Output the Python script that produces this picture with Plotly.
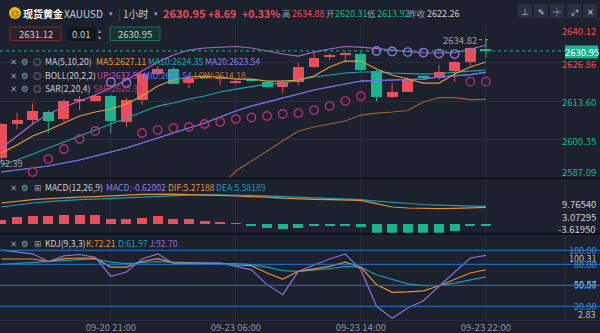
import plotly.graph_objects as go

# ---------------- data ----------------
times = ["09-20 14:00", "09-20 15:00", "09-20 16:00", "09-20 17:00", "09-20 18:00", "09-20 19:00", "09-20 20:00",
         "09-20 21:00", "09-20 22:00", "09-20 23:00", "09-21 00:00", "09-21 01:00", "09-21 02:00", "09-21 03:00", "09-21 04:00",
         "09-23 06:00", "09-23 07:00", "09-23 08:00", "09-23 09:00", "09-23 10:00", "09-23 11:00", "09-23 12:00", "09-23 13:00",
         "09-23 14:00", "09-23 15:00", "09-23 16:00", "09-23 17:00", "09-23 18:00", "09-23 19:00", "09-23 20:00", "09-23 21:00", "09-23 22:00"]
time_ticks = ["09-20 21:00", "09-23 06:00", "09-23 14:00", "09-23 22:00"]

open_ = [2593.90, 2605.55, 2607.04, 2609.57, 2607.39, 2613.72, 2613.61, 2615.34, 2606.35, 2613.96, 2622.95, 2624.68,
         2619.84, 2621.74, 2621.22, 2619.84, 2620.71, 2620.19, 2618.46, 2620.19, 2625.37, 2628.83, 2629.53, 2629.87,
         2623.99, 2615.00, 2616.73, 2621.74, 2621.57, 2623.99, 2627.10, 2631.25]
high = [2606.00, 2609.46, 2612.82, 2610.50, 2614.20, 2615.34, 2616.04, 2615.69, 2614.65, 2623.30, 2625.72, 2625.37,
        2622.26, 2621.92, 2622.61, 2620.88, 2620.88, 2620.53, 2620.88, 2626.76, 2630.56, 2630.11, 2630.56, 2630.56,
        2624.34, 2619.84, 2621.92, 2621.92, 2626.07, 2627.45, 2632.20, 2634.82]
low = [2592.39, 2603.93, 2605.66, 2602.55, 2606.45, 2610.50, 2613.37, 2602.55, 2604.62, 2612.23, 2622.61, 2619.32,
       2618.11, 2621.22, 2619.15, 2619.49, 2620.19, 2618.11, 2616.38, 2619.15, 2625.03, 2627.80, 2626.76, 2623.99,
       2613.61, 2614.65, 2616.73, 2621.22, 2620.88, 2620.19, 2625.72, 2628.49]
close = [2605.55, 2607.04, 2609.91, 2606.45, 2613.37, 2614.20, 2615.34, 2606.70, 2613.96, 2622.95, 2624.68, 2619.49,
         2621.57, 2621.57, 2621.92, 2620.36, 2620.53, 2618.46, 2620.19, 2625.37, 2628.49, 2629.53, 2629.87, 2624.34,
         2615.00, 2616.73, 2621.22, 2621.57, 2623.65, 2627.10, 2631.95, 2630.95]

ma5 = [2595.63, 2598.39, 2601.51, 2603.58, 2606.00, 2608.43, 2609.81, 2610.85, 2612.58, 2615.34, 2618.80, 2620.88,
       2621.92, 2622.26, 2621.92, 2621.22, 2621.22, 2620.53, 2620.53, 2620.88, 2622.26, 2625.37, 2627.45, 2627.45,
       2624.68, 2622.61, 2621.22, 2619.84, 2619.84, 2622.95, 2625.37, 2627.11]
ma10 = [2591.48, 2593.21, 2595.28, 2597.36, 2599.43, 2601.51, 2603.58, 2605.66, 2607.73, 2609.81, 2611.88, 2612.92,
        2614.31, 2615.34, 2616.73, 2617.76, 2618.63, 2619.49, 2619.84, 2620.88, 2621.92, 2622.61, 2623.30, 2623.65,
        2623.65, 2623.30, 2623.13, 2622.95, 2623.13, 2623.65, 2623.99, 2624.35]
ma20 = [2589.06, 2589.75, 2590.44, 2591.13, 2592.17, 2593.21, 2594.59, 2595.97, 2597.36, 2599.09, 2600.82, 2602.55,
        2604.27, 2606.00, 2608.08, 2610.16, 2611.88, 2613.27, 2614.65, 2616.04, 2617.42, 2618.46, 2619.49, 2620.53,
        2620.71, 2620.88, 2620.88, 2621.22, 2621.92, 2622.26, 2622.78, 2623.54]
boll_up = [2597.36, 2601.51, 2605.66, 2609.12, 2611.54, 2613.61, 2615.69, 2618.11, 2620.88, 2623.99, 2627.10, 2629.53,
           2631.25, 2631.95, 2632.29, 2632.47, 2631.95, 2630.91, 2629.87, 2629.18, 2630.56, 2631.60, 2632.47, 2632.29,
           2631.77, 2631.25, 2630.74, 2630.22, 2630.22, 2630.39, 2631.60, 2632.91]
boll_mid = ma20
boll_low = [2580.75, 2577.64, 2574.53, 2572.45, 2572.45, 2572.80, 2574.18, 2574.87, 2575.22, 2575.91, 2576.26, 2576.60,
            2577.99, 2580.41, 2583.87, 2589.40, 2592.86, 2596.32, 2599.78, 2603.24, 2604.62, 2605.66, 2606.70, 2608.77,
            2609.46, 2609.81, 2610.33, 2613.27, 2614.82, 2614.82, 2614.13, 2614.18]
sar = [None, None, 2589.06, 2593.55, 2597.01, 2600.47, 2603.24, 2620.19, 2619.84, 2602.55, 2603.58, 2604.27,
       2604.62, 2605.66, 2606.35, 2607.39, 2607.91, 2608.43, 2609.12, 2609.46, 2610.50, 2611.88, 2613.61, 2615.34,
       2630.91, 2630.74, 2630.56, 2630.39, 2630.04, 2629.87, 2620.33, 2620.33]

macd_hist = [2.06, 3.85, 4.39, 4.23, 5.15, 5.15, 5.15, 2.60, 2.60, 3.31, 4.23, 2.98, 2.60, 1.52, 1.14, 0.40,
             -0.65, -1.90, -2.82, -1.90, -0.81, -0.81, -0.60, -1.57, -4.61, -5.15, -5.15, -5.15, -4.61, -3.74, -1.19, -0.62]
dif = [11.11, 12.09, 12.90, 13.44, 13.98, 14.25, 14.53, 14.80, 15.34, 15.77, 15.99, 15.88, 15.72, 15.61, 15.23, 14.91,
       14.69, 14.25, 13.71, 13.28, 13.06, 12.90, 12.74, 12.52, 10.73, 8.94, 8.40, 8.02, 8.02, 8.18, 8.56, 8.73]
dea = [8.94, 10.19, 11.11, 11.82, 12.47, 12.90, 13.17, 13.55, 13.98, 14.36, 14.80, 15.07, 15.34, 15.50, 15.50, 15.34,
       15.23, 14.96, 14.63, 14.25, 13.88, 13.55, 13.28, 12.90, 12.09, 11.44, 10.84, 10.30, 9.92, 9.65, 9.38, 9.27]

kdj_k = [87.6, 87.6, 87.6, 84.0, 88.0, 89.0, 88.4, 76.0, 76.0, 84.0, 88.0, 82.0, 82.0, 81.0, 81.0, 79.0,
         78.0, 67.6, 59.0, 70.0, 73.5, 77.0, 83.0, 75.7, 51.0, 40.0, 40.5, 42.0, 49.4, 59.0, 67.6, 72.21]
kdj_d = [80.0, 81.5, 83.0, 84.0, 85.5, 86.6, 87.6, 83.0, 81.0, 82.0, 84.0, 83.0, 82.0, 81.0, 81.0, 81.0,
         79.5, 76.0, 71.0, 70.0, 72.0, 73.7, 77.0, 75.7, 65.0, 58.0, 52.0, 49.4, 50.0, 53.0, 58.0, 61.97]
kdj_j = [100.31, 97.6, 95.0, 84.0, 92.0, 94.0, 90.0, 63.0, 69.0, 87.6, 95.0, 81.0, 81.0, 81.0, 82.0, 77.0,
         72.0, 51.0, 36.6, 70.0, 78.5, 87.6, 94.7, 72.0, 20.0, 2.83, 17.6, 28.0, 48.6, 68.6, 89.0, 92.70]
kdj_levels = [100, 80, 50, 20]

price_ticks = [2640.12, 2626.86, 2613.60, 2600.35, 2587.09]
macd_ticks = [9.76540, 3.07295, -3.61950]

last_price = 2630.95
prev_close = 2622.26

# ---------------- styling ----------------
W, H = 600, 333
BG = "#1c212d"
RED = "#e84f5b"
GREEN = "#1db38c"
GRID = "#272d3a"
GRAY = "#9aa0aa"
LIGHT = "#c8ccd4"
FONT = "Noto Sans CJK SC, Noto Sans, DejaVu Sans, sans-serif"
C_MA5 = "#e49a3c"
C_MA10 = "#1fa3b3"
C_MA20 = "#6f6fe6"
C_UP = "#b562c6"
C_LOW = "#9b6236"
C_SAR_DN = "#b8306c"
C_SAR_UP = "#8c74dc"
C_K = "#e0913a"
C_D = "#1a9bb0"
C_J = "#8a6fd8"
C_LVL = "#2079d0"


def P(xp):
    return xp / W


def Q(yp):
    return 1 - yp / H


xi = list(range(len(times)))
tick_pos = [times.index(t) for t in time_ticks]
XR = [-0.09, 36.06]
XDOM = [0, 565 / W]

fig = go.Figure()

# ---- candles (wicks + bodies) ----
is_up = [c >= o for o, c in zip(open_, close)]
for flag, col in ((True, RED), (False, GREEN)):
    xs, ys = [], []
    for i, h, l, u in zip(xi, high, low, is_up):
        if u == flag:
            xs += [i, i, None]
            ys += [l, h, None]
    fig.add_trace(go.Scatter(x=xs, y=ys, mode="lines", line=dict(color=col, width=1),
                             xaxis="x", yaxis="y", hoverinfo="skip"))
bases = [min(o, c) for o, c in zip(open_, close)]
heights = [max(abs(c - o), 0.35) for o, c in zip(open_, close)]
fig.add_trace(go.Bar(x=xi, y=heights, base=bases, width=0.7,
                     marker=dict(color=[RED if u else GREEN for u in is_up], line=dict(width=0)),
                     xaxis="x", yaxis="y", hoverinfo="skip"))

# ---- indicator lines ----
for series, col in ((boll_low, C_LOW), (boll_up, C_UP), (boll_mid, C_MA20),
                    (ma20, C_MA20), (ma10, C_MA10), (ma5, C_MA5)):
    fig.add_trace(go.Scatter(x=xi, y=series, mode="lines", line=dict(color=col, width=1.2),
                             xaxis="x", yaxis="y", hoverinfo="skip"))

sar_cols = [(C_SAR_UP if (s is not None and s > c) else C_SAR_DN) for s, c in zip(sar, close)]
fig.add_trace(go.Scatter(x=xi, y=sar, mode="markers",
                         marker=dict(symbol="circle-open", size=8.5, color=sar_cols, line=dict(width=1.3)),
                         xaxis="x", yaxis="y", hoverinfo="skip"))

# ---- MACD ----
fig.add_trace(go.Bar(x=xi, y=macd_hist, width=0.64,
                     marker=dict(color=[RED if v >= 0 else GREEN for v in macd_hist], line=dict(width=0)),
                     xaxis="x2", yaxis="y2", hoverinfo="skip"))
fig.add_trace(go.Scatter(x=xi, y=dea, mode="lines", line=dict(color=C_D, width=1.2),
                         xaxis="x2", yaxis="y2", hoverinfo="skip"))
fig.add_trace(go.Scatter(x=xi, y=dif, mode="lines", line=dict(color=C_K, width=1.2),
                         xaxis="x2", yaxis="y2", hoverinfo="skip"))

# ---- KDJ ----
for series, col in ((kdj_d, C_D), (kdj_k, C_K), (kdj_j, C_J)):
    fig.add_trace(go.Scatter(x=xi, y=series, mode="lines", line=dict(color=col, width=1.2),
                             xaxis="x3", yaxis="y3", hoverinfo="skip"))

# ---------------- shapes ----------------
shapes = []


def rect(x0, y0, x1, y1, fill, line=None, lw=1, layer="above"):
    shapes.append(dict(type="rect", xref="paper", yref="paper", x0=P(x0), x1=P(x1), y0=Q(y1), y1=Q(y0),
                       fillcolor=fill, line=dict(color=line or fill, width=lw if line else 0), layer=layer))


def hline_px(yp, color, width=1, x0=0, x1=W, dash=None):
    shapes.append(dict(type="line", xref="paper", yref="paper", x0=P(x0), x1=P(x1), y0=Q(yp), y1=Q(yp),
                       line=dict(color=color, width=width, dash=dash), layer="above"))


# panel separators
hline_px(178.2, "#0d1118", 2)
hline_px(233.8, "#0d1118", 2)
hline_px(320.5, "#262c38", 1)
shapes.append(dict(type="line", xref="paper", yref="paper", x0=P(565), x1=P(565), y0=Q(320), y1=Q(22),
                   line=dict(color="#2a303c", width=1), layer="below"))

# KDJ level lines
for lv in kdj_levels:
    shapes.append(dict(type="line", xref="paper", yref="y3", x0=0, x1=1, y0=lv, y1=lv,
                       line=dict(color=C_LVL, width=1), layer="above"))

# current price dotted line + tag
shapes.append(dict(type="line", xref="paper", yref="y", x0=0, x1=P(565), y0=last_price, y1=last_price,
                   line=dict(color=GREEN, width=1, dash="dot"), layer="above"))
rect(565, 45.5, 598, 58.5, GREEN)

# high marker leader
shapes.append(dict(type="line", xref="paper", yref="y", x0=P(479), x1=P(488), y0=high[-1], y1=high[-1],
                   line=dict(color=GRAY, width=1, dash="dot"), layer="above"))

# header coin icon
shapes.append(dict(type="circle", xref="paper", yref="paper", x0=P(9), x1=P(21), y0=Q(19), y1=Q(7),
                   fillcolor="#f0b429", line=dict(width=0), layer="above"))

# input boxes
rect(10, 27, 61, 40.5, "#2e1f27", "#6a2e3a")
rect(67, 27, 96, 40.5, "#131720")
rect(110, 27, 160, 40.5, "#17352f", "#1e6a5a")

# top-right buttons
for bx in (518, 534, 550, 567, 583):
    rect(bx, 4, bx + 14, 18, "#2a3040")

fig.update_layout(shapes=shapes)

# ---------------- annotations ----------------
anns = []


def txt(x, y, s, color, size=10, xanchor="left", bold=False, xref="paper", yref="paper", yshift=0):
    anns.append(dict(x=x, y=y, xref=xref, yref=yref, text=(f"<b>{s}</b>" if bold else s), showarrow=False,
                     xanchor=xanchor, yanchor="middle", yshift=yshift, borderpad=0,
                     font=dict(color=color, size=size, family=FONT)))


# header
hy = Q(13)
txt(P(15), Q(13.5), "☺", "#6b4a00", 8, xanchor="center")
txt(P(22), hy, "现货黄金", "#ffffff", 10, bold=True)
txt(P(63), hy, "XAUUSD", LIGHT, 10)
txt(P(108), hy, "▾", GRAY, 7)
txt(P(117), hy, "|", "#4a5060", 10)
txt(P(122), hy, "1小时", LIGHT, 10)
txt(P(153), hy, "▾", GRAY, 7)
txt(P(162), hy, "2630.95", RED, 11, bold=True)
txt(P(207), hy, "+8.69", RED, 10.5, bold=True)
txt(P(241), hy, "+0.33%", RED, 10.5, bold=True)
txt(P(281), hy, "高", GRAY, 8.5)
txt(P(291), hy, "2634.88", RED, 9)
txt(P(325), hy, "开", GRAY, 8.5)
txt(P(334), hy, "2620.31", GREEN, 9)
txt(P(366), hy, "低", GRAY, 8.5)
txt(P(376), hy, "2613.92", GREEN, 9)
txt(P(407), hy, "昨收", GRAY, 8.5)
txt(P(426), hy, f"{prev_close:.2f}", LIGHT, 9)

# header buttons glyphs
for bx, g in ((518, "⊥"), (534, "✎"), (550, "╪"), (567, "⤢"), (583, "✕")):
    txt(P(bx + 7), Q(11), g, LIGHT, 8, xanchor="center")

# input box texts
txt(P(35.5), Q(33.8), "2631.12", LIGHT, 9.5, xanchor="center")
txt(P(81), Q(33.8), "0.01", LIGHT, 9.5, xanchor="center")
txt(P(99.5), Q(30.5), "▴", GRAY, 6, xanchor="center")
txt(P(99.5), Q(37.5), "▾", GRAY, 6, xanchor="center")
txt(P(135), Q(33.8), "2630.95", LIGHT, 9.5, xanchor="center")


def icons(yp, third):
    txt(P(13), Q(yp), "✕", GRAY, 8.5, xanchor="center")
    txt(P(25), Q(yp), "⚙", GRAY, 8.5, xanchor="center")
    txt(P(37.5), Q(yp), third, GRAY, 8.5, xanchor="center")


LS = 8.6
# main legends
icons(61, "◎")
txt(P(44), Q(61), "MA(5,10,20)", LIGHT, LS)
txt(P(95), Q(61), f"MA5:{ma5[-1]:.2f}", C_MA5, LS)
txt(P(147), Q(61), f"MA10:{ma10[-1]:.2f}", C_MA10, LS)
txt(P(204), Q(61), f"MA20:{ma20[-1]:.2f}", "#8c7fe0", LS)
icons(74.5, "◎")
txt(P(44), Q(74.5), "BOLL(20,2,2)", LIGHT, LS)
txt(P(96), Q(74.5), f"UP:{boll_up[-1]:.2f}", "#c452c4", LS)
txt(P(142), Q(74.5), f"MID:{boll_mid[-1]:.2f}", "#5f6cf0", LS)
txt(P(193), Q(74.5), f"LOW:{boll_low[-1]:.2f}", "#b07a40", LS)
icons(88, "◎")
txt(P(44), Q(88), "SAR(2,20,4)", LIGHT, LS)
txt(P(92), Q(88), f"SAR:{sar[-1]:.2f}", "#c4306c", LS)

# MACD legend
icons(186.7, "⊞")
txt(P(44), Q(186.7), "MACD(12,26,9)", LIGHT, LS)
txt(P(105), Q(186.7), "MACD:-0.62002", "#8a7fe0", LS)
txt(P(167), Q(186.7), "DIF:5.27188", "#e0913a", LS)
txt(P(215), Q(186.7), "DEA:5.58189", "#1a9bb0", LS)

# KDJ legend
icons(242.7, "⊞")
txt(P(44), Q(242.7), "KDJ(9,3,3)", LIGHT, LS)
txt(P(85), Q(242.7), f"K:{kdj_k[-1]:.2f}", "#e0913a", LS)
txt(P(117), Q(242.7), f"D:{kdj_d[-1]:.2f}", "#1a9bb0", LS)
txt(P(148), Q(242.7), f"J:{kdj_j[-1]:.2f}", C_J, LS)

# right price axis labels (drawn at axis positions)
AS = 9.5
shifts = [-7, -1.5, -1, -1.5, 6]
for v, s in zip(price_ticks, shifts):
    col = RED if v > prev_close else GREEN
    txt(P(597), v, f"{v:.2f}", col, AS, xanchor="right", yref="y", yshift=s)
txt(P(581.5), Q(52), f"{last_price:.2f}", "#ffffff", AS, xanchor="center")

# high/low markers
txt(P(478), high[-1], f"{high[-1]:.2f}", GRAY, AS, xanchor="right", yref="y")
txt(P(23), min(low), f"{min(low):.2f}", GRAY, 9, xanchor="right", yref="y", yshift=-1.5)

# MACD axis labels
for v in macd_ticks:
    txt(P(597), v, f"{v:.5f}", LIGHT, AS, xanchor="right", yref="y2", yshift=1)

# KDJ axis labels
KS = 9
txt(P(597), max(kdj_j), f"{max(kdj_j):.2f}", "#b8bcc4", KS, xanchor="right", yref="y3", yshift=-8)
txt(P(597), 50.57, "50.57", "#b8bcc4", KS, xanchor="right", yref="y3")
txt(P(597), min(kdj_j), f"{min(kdj_j):.2f}", "#b8bcc4", KS, xanchor="right", yref="y3", yshift=3.5)
for lv in kdj_levels:
    txt(P(597), lv, f"{lv:.2f}", "#3b8fe0", KS, xanchor="right", yref="y3")

fig.update_layout(annotations=anns)

# ---------------- axes ----------------
ax_common = dict(type="linear", range=XR, domain=XDOM, tickvals=tick_pos, ticktext=time_ticks, showgrid=True,
                 gridcolor=GRID, gridwidth=1, showline=False, zeroline=False, ticks="", fixedrange=True)
fig.update_layout(
    width=W, height=H,
    margin=dict(l=0, r=0, t=0, b=0),
    paper_bgcolor=BG, plot_bgcolor=BG,
    showlegend=False, hovermode=False,
    bargap=0,
    font=dict(family=FONT, color=GRAY, size=10),
    xaxis=dict(anchor="y", showticklabels=False, **ax_common),
    xaxis2=dict(anchor="y2", showticklabels=False, **ax_common),
    xaxis3=dict(anchor="y3", showticklabels=True,
                tickfont=dict(size=9.5, color="#8c93a0", family=FONT), **ax_common),
    yaxis=dict(domain=[Q(177.7), Q(24.4)], range=[price_ticks[-1], price_ticks[0]], side="right",
               tickvals=price_ticks[1:4], showticklabels=False, showgrid=True, gridcolor=GRID,
               zeroline=False, showline=False, fixedrange=True),
    yaxis2=dict(domain=[Q(233.5), Q(179.5)], range=[-5.42, 23.85], showticklabels=False, showgrid=False,
                zeroline=False, showline=False, fixedrange=True),
    yaxis3=dict(domain=[Q(320.3), Q(234)], range=[0, 123.3], showticklabels=False, showgrid=False,
                zeroline=False, showline=False, fixedrange=True),
)

fig.write_html("out.html")
